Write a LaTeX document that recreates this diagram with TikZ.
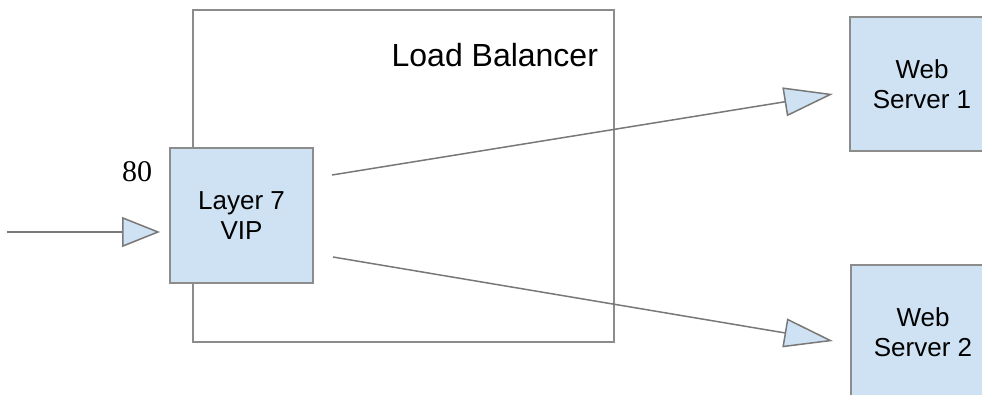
\documentclass[tikz,border=0pt]{standalone}
\usepackage{fontspec}
\setmainfont{Liberation Sans}
\newfontfamily\seriffont{Liberation Serif}
\usetikzlibrary{arrows.meta,calc}
\definecolor{boxfill}{RGB}{207,226,243}
\definecolor{boxline}{RGB}{140,140,140}
\definecolor{wire}{RGB}{120,120,120}
\begin{document}
\begin{tikzpicture}[x=1pt,y=-1pt,
  every node/.style={inner sep=0pt,outer sep=0pt},
  frame/.style={draw=boxline,line width=1.3pt,rectangle},
  unit/.style={frame,fill=boxfill,align=center,
    font=\fontsize{26}{30}\selectfont},
  flow/.style={draw=wire,line width=1.5pt},
  tipS/.style={-{Triangle[length=38pt,width=30pt,fill=boxfill,line join=miter]}},
  tipL/.style={-{Triangle[length=49pt,width=29pt,fill=boxfill,line join=miter]}}]
  \useasboundingbox (0,0) rectangle (982,394);

  % load balancer enclosure and its title
  \node[frame,minimum width=421pt,minimum height=332pt] (lb) at (403.5,176) {};
  \node[anchor=base east,font=\fontsize{32}{36}\selectfont] (lbtitle) at (598,66) {Load Balancer};

  % virtual IP and the two backends
  \node[unit,minimum width=143pt,minimum height=135pt] (vip) at (241.5,215.5) {Layer 7\\VIP};
  \node[unit,minimum width=144pt,minimum height=134pt] (ws1) at (922,84) {Web\\Server 1};
  \node[unit,minimum width=144pt,minimum height=134pt] (ws2) at (923,332) {Web\\Server 2};

  % port label
  \node[font=\seriffont\fontsize{30}{34}\selectfont] (port) at (137,172) {80};

  % connector end points
  \coordinate (client) at (7,232);
  \coordinate (vipin) at ($(vip.west)+(-10,16.5)$);
  \coordinate (out1) at ($(vip.east)+(19,-40.5)$);
  \coordinate (out2) at ($(vip.east)+(20,41.5)$);
  \coordinate (ws1in) at ($(ws1.west)+(-17,10)$);
  \coordinate (ws2in) at ($(ws2.west)+(-18,9)$);

  \draw[flow,tipS] (client) -- (vipin);
  \draw[flow,tipL] (out1) -- (ws1in);
  \draw[flow,tipL] (out2) -- (ws2in);
\end{tikzpicture}
\end{document}
